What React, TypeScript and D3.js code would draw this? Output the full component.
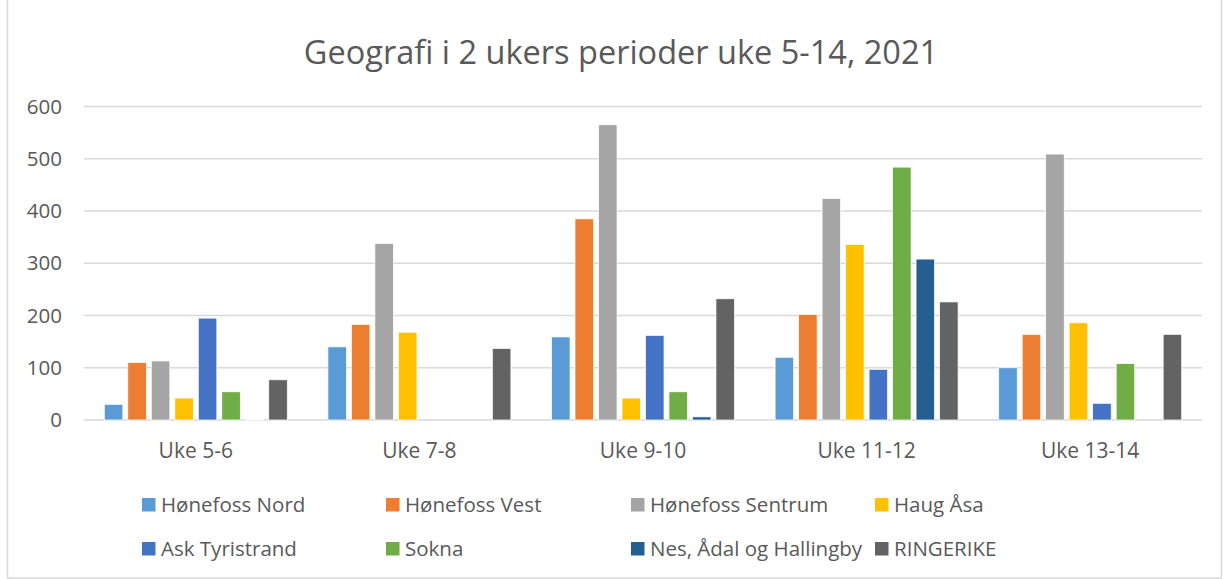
import React from 'react';
import {scaleBand, scaleLinear} from 'd3';

const categories = ['Uke 5-6', 'Uke 7-8', 'Uke 9-10', 'Uke 11-12', 'Uke 13-14'];
const seriesNames = ['Hønefoss Nord', 'Hønefoss Vest', 'Hønefoss Sentrum', 'Haug Åsa', 'Ask Tyristrand', 'Sokna', 'Nes, Ådal og Hallingby', 'RINGERIKE'];
const colors = ['#5B9BD5', '#ED7D31', '#A5A5A5', '#FFC000', '#4472C4', '#70AD47', '#255E91', '#636363'];

const honefossNord = [30, 140, 159, 120, 100];
const honefossVest = [110, 183, 385, 202, 164];
const honefossSentrum = [113, 338, 565, 424, 509];
const haugAsa = [42, 168, 42, 336, 186];
const askTyristrand = [195, 0, 162, 97, 32];
const sokna = [54, 0, 54, 484, 108];
const nesAdal = [1, 0, 6, 308, 0];
const ringerike = [77, 137, 232, 226, 164];

const yTicks = [0, 100, 200, 300, 400, 500, 600];

const seriesValues = [honefossNord, honefossVest, honefossSentrum, haugAsa, askTyristrand, sokna, nesAdal, ringerike];

const App = () => {
    const width = 1230, height = 579;
    const plot = {left: 84, right: 1202, top: 106.5, bottom: 420};
    const font = '"Open Sans", sans-serif';
    const textColor = '#595959';

    const x0 = scaleBand().domain(categories).range([plot.left, plot.right]);
    const x1 = scaleBand().domain(seriesNames).range([20.3, x0.bandwidth() - 20.3]).paddingInner(0.21);
    const y = scaleLinear().domain([0, 600]).range([plot.bottom, plot.top]);

    const legendX = [142, 386, 631, 875];
    const legendY = [505, 549];

    return (
        <svg width={width} height={height} style={{position: 'absolute', left: 0, top: 0, background: '#fff'}}>
            <rect x={7.5} y={-1} width={1214} height={579} fill="#fff" stroke="#d9d9d9" strokeWidth={1.5}/>
            <text x={621} y={53} dy="0.35em" textAnchor="middle" fontFamily={font} fontSize={32.5} fill={textColor}>
                Geografi i 2 ukers perioder uke 5-14, 2021
            </text>
            {yTicks.map(t => (
                <g key={t}>
                    <line x1={plot.left} x2={plot.right} y1={y(t)} y2={y(t)} stroke="#d9d9d9" strokeWidth={1.5}/>
                    <text x={62} y={y(t)} dy="0.35em" textAnchor="end" fontFamily={font} fontSize={20.5} fill={textColor}>{t}</text>
                </g>
            ))}
            {categories.map((c, ci) => (
                <g key={c} transform={`translate(${x0(c)},0)`}>
                    {seriesNames.map((s, si) => {
                        const v = seriesValues[si][ci];
                        if (!v) return null;
                        return <rect key={s} x={x1(s)} y={y(v)} width={x1.bandwidth()} height={y(0) - y(v)}
                                     fill={colors[si]} stroke="#fff" strokeWidth={0.75}/>
                    })}
                    <text x={x0.bandwidth() / 2} y={451} dy="0.35em" textAnchor="middle" fontFamily={font} fontSize={21} fill={textColor}>{c}</text>
                </g>
            ))}
            {seriesNames.map((s, i) => {
                const lx = legendX[i % 4], ly = legendY[Math.floor(i / 4)];
                return (
                    <g key={s}>
                        <rect x={lx} y={ly - 7} width={13.5} height={13.5} fill={colors[i]}/>
                        <text x={lx + 19} y={ly} dy="0.35em" fontFamily={font} fontSize={20.5} fill={textColor}>{s}</text>
                    </g>
                )
            })}
        </svg>
    )
}

export default App;
